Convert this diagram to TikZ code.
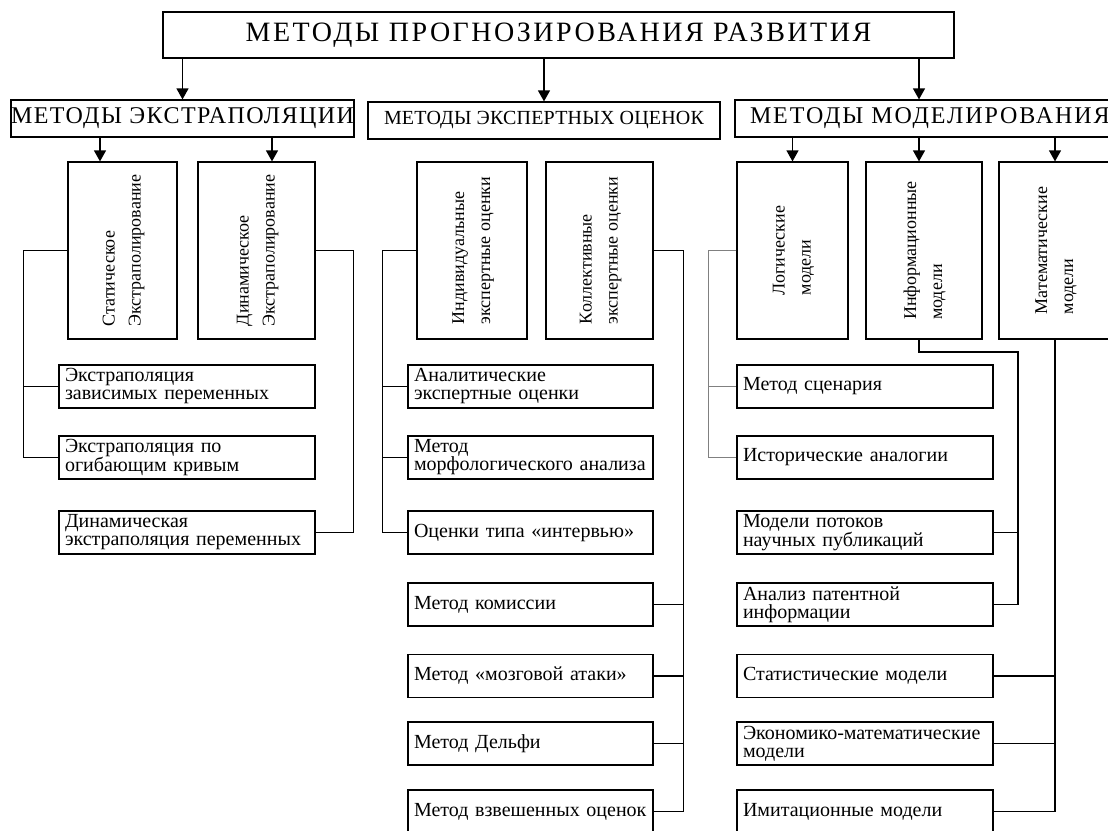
\documentclass[tikz,border=0pt]{standalone}
\usepackage{fontspec}
\setmainfont{Liberation Serif}
\usetikzlibrary{arrows.meta}
\tikzstyle{box}=[draw,rectangle,line width=1.2pt,inner sep=0pt]
\tikzstyle{vbox}=[box,minimum height=177pt,font=\fontsize{18}{20}\selectfont]
\tikzstyle{hbox}=[box,minimum height=43pt,align=left,inner xsep=6pt,font=\fontsize{20}{18}\selectfont]
\tikzstyle{head}=[box,minimum height=37pt,font=\fontsize{24}{26}\selectfont\addfontfeatures{LetterSpace=6}]
\tikzstyle{line}=[line width=1.2pt]
\tikzstyle{arr}=[line,-{Triangle[length=11pt,width=12pt]}]
\renewcommand{\arraystretch}{1.3}

\begin{document}
\begin{tikzpicture}[x=1pt,y=-1pt]
\useasboundingbox (0,0) rectangle (1108,830);
\clip (0,0) rectangle (1108,830);

\node[box,minimum width=791pt,minimum height=46pt,font=\fontsize{28}{30}\selectfont\addfontfeatures{LetterSpace=9}] (title) at (558.5,35) {МЕТОДЫ ПРОГНОЗИРОВАНИЯ РАЗВИТИЯ};
\node[head,minimum width=341pt] (extr) at (182.5,118.5) {МЕТОДЫ ЭКСТРАПОЛЯЦИИ};
\node[head,minimum width=352pt,font=\fontsize{20}{22}\selectfont\addfontfeatures{LetterSpace=1}] (expert) at (544,120.5) {МЕТОДЫ ЭКСПЕРТНЫХ ОЦЕНОК};
\node[head,text width=365pt,inner xsep=15pt,align=left,font=\fontsize{24}{26}\selectfont\addfontfeatures{LetterSpace=8}] (model) at (932.5,118.5) {МЕТОДЫ МОДЕЛИРОВАНИЯ};

\node[vbox,minimum width=109pt] (static) at (122.5,250.5) {\rotatebox{90}{\begin{tabular}{@{}l@{}}Статическое\\Экстраполирование\end{tabular}}};
\node[vbox,minimum width=117pt] (dyn) at (256.5,250.5) {\rotatebox{90}{\begin{tabular}{@{}l@{}}Динамическое\\Экстраполирование\end{tabular}}};
\node[vbox,minimum width=110pt] (indiv) at (472,250.5) {\rotatebox{90}{\begin{tabular}{@{}l@{}}Индивидуальные\\экспертные оценки\end{tabular}}};
\node[vbox,minimum width=107pt] (coll) at (599.5,250.5) {\rotatebox{90}{\begin{tabular}{@{}l@{}}Коллективные\\экспертные оценки\end{tabular}}};
\node[vbox,minimum width=111pt] (logic) at (792.5,250.5) {\rotatebox{90}{\begin{tabular}{@{}l@{}}Логические\\модели\end{tabular}}};
\node[vbox,minimum width=116pt] (info) at (924,250.5) {\rotatebox{90}{\begin{tabular}{@{}l@{}}Информационные\\модели\end{tabular}}};
\node[vbox,minimum width=112pt] (math) at (1055,250.5) {\rotatebox{90}{\begin{tabular}{@{}l@{}}Математические\\модели\end{tabular}}};

\node[hbox,text width=244pt] (ea) at (187,386.5) {Экстраполяция\\зависимых переменных};
\node[hbox,text width=244pt] (eb) at (187,457.5) {Экстраполяция по\\огибающим кривым};
\node[hbox,text width=244pt] (ec) at (187,532.5) {Динамическая\\экстраполяция переменных};

\node[hbox,text width=233pt] (xa) at (530.5,386.5) {Аналитические\\экспертные оценки};
\node[hbox,text width=233pt] (xb) at (530.5,457.5) {Метод\\морфологического анализа};
\node[hbox,text width=233pt] (xc) at (530.5,532.5) {Оценки типа «интервью»};
\node[hbox,text width=233pt] (xd) at (530.5,604.5) {Метод комиссии};
\node[hbox,text width=233pt] (xe) at (530.5,676) {Метод «мозговой атаки»};
\node[hbox,text width=233pt] (xf) at (530.5,743.5) {Метод Дельфи};
\node[hbox,text width=233pt] (xg) at (530.5,811.5) {Метод взвешенных оценок};

\node[hbox,text width=244pt] (ma) at (865,386.5) {Метод сценария};
\node[hbox,text width=244pt] (mb) at (865,457.5) {Исторические аналогии};
\node[hbox,text width=244pt] (mc) at (865,532.5) {Модели потоков\\научных публикаций};
\node[hbox,text width=244pt] (md) at (865,604.5) {Анализ патентной\\информации};
\node[hbox,text width=244pt] (me) at (865,676) {Статистические модели};
\node[hbox,text width=244pt] (mf) at (865,743.5) {Экономико-математические\\модели};
\node[hbox,text width=244pt] (mg) at (865,811.5) {Имитационные модели};

\draw[arr] (title.south -| extr) -- (extr.north);
\draw[arr] (title.south -| expert) -- (expert.north);
\draw[arr] (title.south -| 919,0) -- (model.north -| 919,0);
\draw[arr] (extr.south -| 100,0) -- (static.north -| 100,0);
\draw[arr] (extr.south -| 272,0) -- (dyn.north -| 272,0);
\draw[arr] (model.south -| logic) -- (logic.north);
\draw[arr] (model.south -| 919,0) -- (info.north -| 919,0);
\draw[arr] (model.south -| math) -- (math.north);

\draw[line] (static.west) -- ++(-44,0) |- (ea.west);
\draw[line] (static.west) -- ++(-44,0) |- (eb.west);
\draw[line] (dyn.east) -- ++(38,0) |- (ec.east);

\draw[line] (indiv.west) -- ++(-34,0) |- (xa.west);
\draw[line] (indiv.west) -- ++(-34,0) |- (xb.west);
\draw[line] (indiv.west) -- ++(-34,0) |- (xc.west);
\draw[line] (coll.east) -- ++(30,0) |- (xd.east);
\draw[line] (coll.east) -- ++(30,0) |- (xe.east);
\draw[line] (coll.east) -- ++(30,0) |- (xf.east);
\draw[line] (coll.east) -- ++(30,0) |- (xg.east);

\draw[line,gray] (logic.west) -- ++(-28,0) |- (ma.west);
\draw[line,gray] (logic.west) -- ++(-28,0) |- (mb.west);
\draw[line] (info.south -| 919,0) |- (1018,352) |- (mc.east);
\draw[line] (info.south -| 919,0) |- (1018,352) |- (md.east);
\draw[line] (math.south) |- (me.east);
\draw[line] (math.south) |- (mf.east);
\draw[line] (math.south) |- (mg.east);
\end{tikzpicture}
\end{document}
